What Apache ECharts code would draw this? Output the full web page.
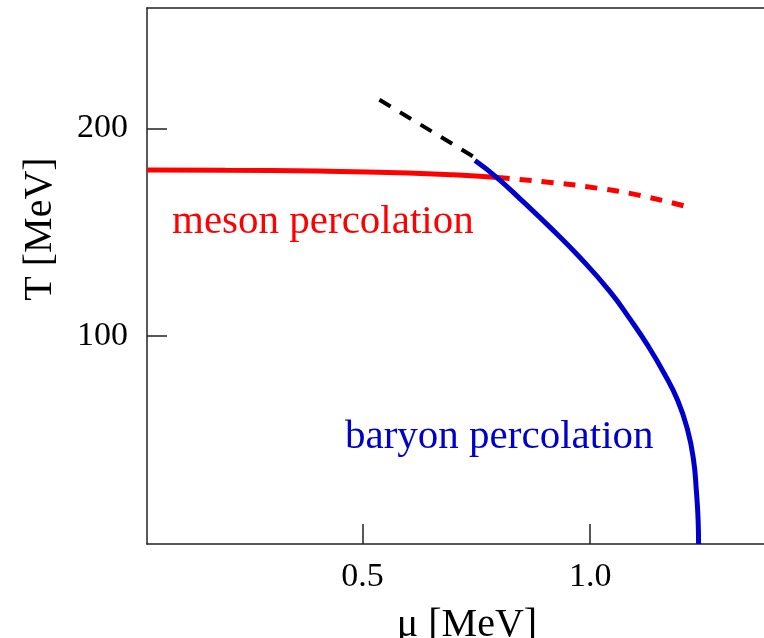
<!DOCTYPE html>
<html lang="en">

<head>
    <meta http-equiv="Content-Type" content="text/html; charset=utf-8" />
    <title>percolation</title>
    <style>
        html,
        body,
        #myChart {
            width: 100%;
            height: 100%;
            margin: 0;
            padding: 0;
            overflow: hidden;
            background: #ffffff;
        }
    </style>
</head>

<body>
    <div id="myChart"></div>
    <script src="https://cdn.jsdelivr.net/npm/echarts@6/dist/echarts.min.js"></script>
    <script>
        // [mu, T]
        var mesonSolid = [[0.027, 180], [0.2, 179.9], [0.4, 179.5], [0.6, 178.6], [0.7, 177.7], [0.797, 176.4]];
        var mesonDashed = [[0.797, 176.4], [0.918, 173.9], [1.015, 171.3], [1.109, 167.8], [1.215, 162.2]];
        var baryonLine = [[0.747, 184.6], [0.795, 176.4], [0.852, 164.9], [0.912, 152.4], [0.977, 138.0],
            [1.043, 121.6], [1.086, 108.7], [1.126, 95.7], [1.161, 82.7], [1.192, 69.2], [1.214, 54.8],
            [1.227, 40.4], [1.233, 26.0], [1.237, 11.5], [1.238, 0]];
        var blackDashed = [[0.537, 213.8], [0.747, 186]];
        var xTicks = [0.5, 1.0];
        var yTicks = [100, 200];

        var serif = '"Liberation Serif", "DejaVu Serif", serif';
        var myChart = echarts.init(document.getElementById('myChart'));
        var option = {
            backgroundColor: '#ffffff',
            animation: false,
            grid: {
                left: 147,
                top: 8,
                right: 0,
                bottom: 94,
                containLabel: false,
                outerBoundsMode: 'none'
            },
            xAxis: [{
                type: 'value',
                min: 0.0265,
                max: 1.3817,
                axisLine: { show: true, onZero: false, lineStyle: { color: '#222', width: 1.5 } },
                axisTick: { show: true, inside: true, length: 20, customValues: xTicks, lineStyle: { color: '#222', width: 1.5 } },
                axisLabel: {
                    customValues: xTicks,
                    margin: 16,
                    color: '#000',
                    fontFamily: serif,
                    fontSize: 34,
                    formatter: function (v) { return v.toFixed(1); }
                },
                splitLine: { show: false }
            }, {
                type: 'value',
                position: 'top',
                min: 0.0265,
                max: 1.3817,
                axisLine: { show: true, onZero: false, lineStyle: { color: '#222', width: 1.5 } },
                axisTick: { show: false },
                axisLabel: { show: false },
                splitLine: { show: false }
            }],
            yAxis: {
                type: 'value',
                min: 0,
                max: 258,
                axisLine: { show: true, onZero: false, lineStyle: { color: '#222', width: 1.5 } },
                axisTick: { show: true, inside: true, length: 20, customValues: yTicks, lineStyle: { color: '#222', width: 1.5 } },
                axisLabel: {
                    customValues: yTicks,
                    margin: 19,
                    color: '#000',
                    fontFamily: serif,
                    fontSize: 34
                },
                splitLine: { show: false }
            },
            graphic: [{
                type: 'text',
                x: 40,
                y: 229,
                rotation: Math.PI / 2,
                style: {
                    text: 'T [MeV]',
                    fill: '#000',
                    font: '40px ' + serif,
                    align: 'center',
                    verticalAlign: 'middle'
                }
            }, {
                type: 'text',
                x: 467,
                y: 625,
                style: {
                    text: 'μ [MeV]',
                    fill: '#000',
                    font: '40px ' + serif,
                    align: 'center',
                    verticalAlign: 'middle'
                }
            }, {
                type: 'text',
                x: 172,
                y: 202,
                style: {
                    text: 'meson percolation',
                    fill: '#ff0000',
                    font: '41px ' + serif,
                    align: 'left',
                    verticalAlign: 'top'
                }
            }, {
                type: 'text',
                x: 345,
                y: 417,
                style: {
                    text: 'baryon percolation',
                    fill: '#0000cc',
                    font: '41px ' + serif,
                    align: 'left',
                    verticalAlign: 'top'
                }
            }],
            series: [{
                type: 'line',
                data: mesonSolid,
                smooth: true,
                showSymbol: false,
                lineStyle: { color: '#ff0000', width: 5 }
            }, {
                type: 'line',
                data: mesonDashed,
                smooth: true,
                showSymbol: false,
                lineStyle: { color: '#ff0000', width: 5, type: [12, 10] }
            }, {
                type: 'line',
                data: blackDashed,
                showSymbol: false,
                lineStyle: { color: '#000000', width: 4, type: [13, 11] }
            }, {
                type: 'line',
                data: baryonLine,
                smooth: 0.5,
                showSymbol: false,
                lineStyle: { color: '#0000cc', width: 5 }
            }]
        };
        myChart.setOption(option);
    </script>
</body>

</html>
